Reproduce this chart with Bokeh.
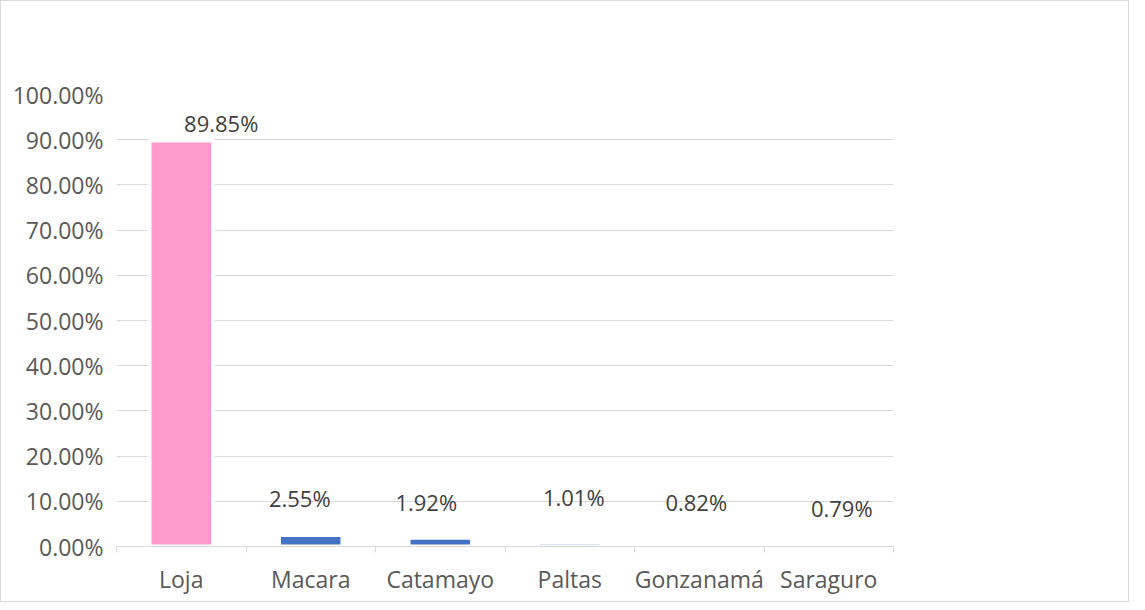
from bokeh.plotting import figure
from bokeh.models import ColumnDataSource, LabelSet, Range1d, FixedTicker
from bokeh.core.properties import value
from bokeh.embed import file_html
from bokeh.resources import INLINE

categories = ["Loja", "Macara", "Catamayo", "Paltas", "Gonzanamá", "Saraguro"]
values = [0.8985, 0.0255, 0.0192, 0.0101, 0.0082, 0.0079]
value_labels = ["89.85%", "2.55%", "1.92%", "1.01%", "0.82%", "0.79%"]
bar_colors = ["#FF99CC", "#4472C4", "#4472C4", "#B4C7E7", "#FFFFFF", "#FFFFFF"]
label_dx = [40, -11, -14, 4, -3, 13]
label_dy = [17, 37, 36, 45, 41, 35]
y_ticks = [0.0, 0.1, 0.2, 0.3, 0.4, 0.5, 0.6, 0.7, 0.8, 0.9, 1.0]
y_tick_labels = ["0.00%", "10.00%", "20.00%", "30.00%", "40.00%", "50.00%",
                 "60.00%", "70.00%", "80.00%", "90.00%", "100.00%"]

FONT = "Open Sans"
TXT = "#595959"

xs = [i + 0.5 for i in range(len(categories))]
src = ColumnDataSource(dict(x=xs, top=values, color=bar_colors, lab=value_labels,
                            dx=label_dx, dy=label_dy))

p = figure(width=1129, height=602, output_backend="svg", toolbar_location=None,
           x_range=Range1d(0, len(categories)), y_range=Range1d(0, 1.0),
           min_border_left=115, min_border_right=237, min_border_top=93, min_border_bottom=57,
           styles={"border": "1px solid #d9d9d9"})
p.outline_line_color = None
p.background_fill_color = "white"
p.border_fill_color = "white"

p.vbar(x="x", top="top", bottom=0, width=0.49, fill_color="color", line_color="white",
       line_width=4, source=src)

p.xgrid.visible = False
p.ygrid.grid_line_color = "#d9d9d9"
p.ygrid.grid_line_width = 1
p.ygrid.ticker = FixedTicker(ticks=y_ticks)

p.yaxis.ticker = FixedTicker(ticks=y_ticks)
p.yaxis.major_label_overrides = {t: s for t, s in zip(y_ticks, y_tick_labels)}
p.yaxis.axis_line_color = None
p.yaxis.major_tick_line_color = None
p.yaxis.minor_tick_line_color = None
p.yaxis.major_tick_out = 0
p.yaxis.major_tick_in = 0
p.yaxis.major_label_text_font = FONT
p.yaxis.major_label_text_font_size = "23px"
p.yaxis.major_label_text_color = TXT
p.yaxis.major_label_standoff = 13

p.xaxis.ticker = FixedTicker(ticks=xs, minor_ticks=list(range(len(categories) + 1)))
p.xaxis.major_label_overrides = {x: c for x, c in zip(xs, categories)}
p.xaxis.axis_line_color = "#d9d9d9"
p.xaxis.major_tick_line_color = None
p.xaxis.major_tick_out = 0
p.xaxis.major_tick_in = 0
p.xaxis.minor_tick_line_color = "#d9d9d9"
p.xaxis.minor_tick_out = 6
p.xaxis.minor_tick_in = 0
p.xaxis.major_label_text_font = FONT
p.xaxis.major_label_text_font_size = "23px"
p.xaxis.major_label_text_color = TXT
p.xaxis.major_label_standoff = 10

labels = LabelSet(x="x", y="top", text="lab", x_offset="dx", y_offset="dy", source=src,
                  text_align="center", text_baseline="middle", text_font=value(FONT),
                  text_font_size=value("22px"), text_color="#404040")
p.add_layout(labels)

open("out.html", "w").write(file_html(p, INLINE))
